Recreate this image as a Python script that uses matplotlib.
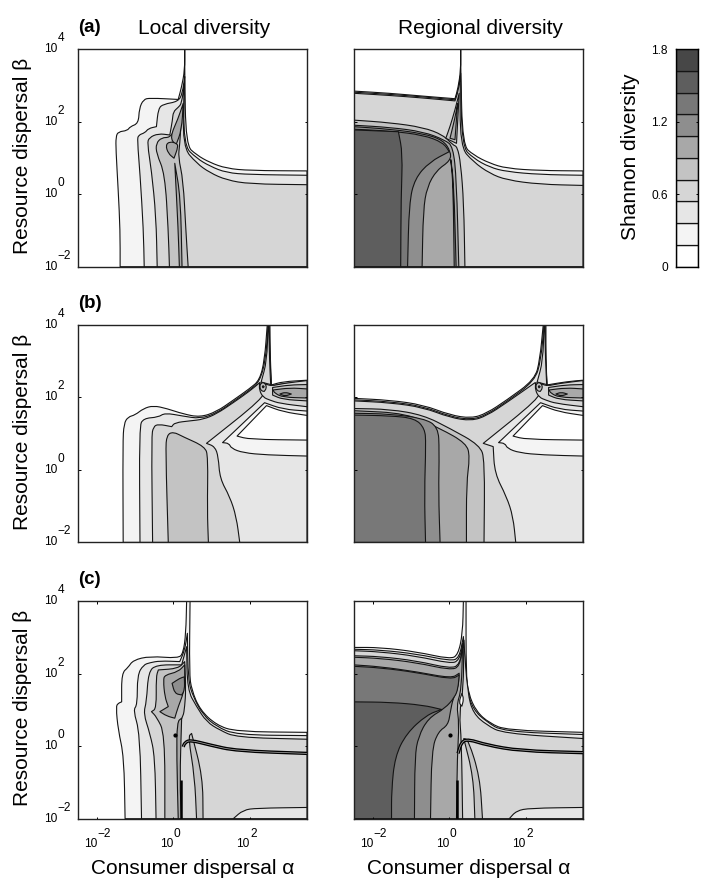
import numpy as np
import matplotlib
matplotlib.use("Agg")
import matplotlib.pyplot as plt
from matplotlib.path import Path
from matplotlib.patches import PathPatch

plt.rcParams['font.family'] = ['Liberation Sans', 'DejaVu Sans']

W, H = 706, 885
LEVEL_EDGES = [0, 0.18, 0.36, 0.54, 0.72, 0.90, 1.08, 1.26, 1.44, 1.62, 1.80]
GRAYS = ['#ffffff', '#f4f4f4', '#e6e6e6', '#d6d6d6', '#c3c3c3',
         '#a8a8a8', '#8e8e8e', '#787878', '#5e5e5e', '#474747']

# All outlines: (log10 consumer dispersal, log10 resource dispersal)
a_l1 = [(-1.39,-2),(-1.39,-0.99),(-1.44,0.11),(-1.50,1.22),(-1.50,1.58),(-1.44,1.72),(-1.20,1.75),(-1.13,1.86),(-0.91,1.95),(-0.89,2.36),(-0.78,2.61),(-0.61,2.65),(0.13,2.61),(0.22,2.96),(0.30,3.42),(0.30,4),(0.30,3.42),(0.33,1.35),(0.61,1.08),(0.96,0.87),(1.39,0.71),(2.00,0.65),(3.5,0.64),(3.5,-2)]
a_l2 = [(-0.76,-2),(-0.78,-0.99),(-0.87,0.57),(-0.94,1.49),(-0.91,1.63),(-0.74,1.69),(-0.65,1.81),(-0.44,1.86),(-0.39,2.36),(-0.26,2.48),(0.13,2.55),(0.24,2.78),(0.30,3.24),(0.26,1.35),(0.61,0.99),(0.96,0.77),(1.39,0.59),(2.00,0.54),(3.5,0.52),(3.5,-2)]
a_l3 = [(-0.42,-2),(-0.45,-0.62),(-0.57,0.66),(-0.68,1.40),(-0.63,1.56),(-0.39,1.67),(-0.09,1.63),(-0.02,2.04),(0.00,2.27),(0.13,2.39),(0.22,2.50),(0.29,3.05),(0.24,1.31),(0.61,0.85),(0.96,0.59),(1.39,0.39),(2.00,0.28),(3.5,0.26),(3.5,-2)]
a_l4 = [(-0.10,-2),(-0.13,-0.99),(-0.22,0.57),(-0.44,1.12),(-0.45,1.40),(-0.30,1.56),(-0.09,1.56),(0.04,1.77),(0.22,2.23),(0.17,1.35),(0.13,1.03),(0.26,0.39),(0.33,-0.99),(0.39,-2)]
a_l5_blob = [(-0.20,1.35),(-0.09,1.45),(0.09,1.40),(0.13,1.31),(0.02,0.99),(-0.13,1.12)]
a_l5_strip = [(0.16,-2),(0.13,-0.99),(0.04,0.85),(0.19,-0.07),(0.23,-2)]
a_l5_fan = [(-0.09,1.56),(0.13,2.09),(0.26,2.50),(0.22,1.77),(0.07,1.35)]

ar_l1 = [(-2.5,2.84),(-1.55,2.78),(-0.68,2.70),(0.15,2.63),(0.23,2.92),(0.30,3.42),(0.30,4),(0.30,3.42),(0.35,1.35),(0.63,1.08),(1.06,0.85),(1.50,0.71),(2.37,0.65),(3.5,0.64),(3.5,-2),(-2.5,-2)]
ar_l2 = [(-2.5,2.81),(-1.55,2.75),(-0.68,2.68),(0.15,2.60),(0.24,2.87),(0.30,3.33),(0.33,1.31),(0.63,0.99),(1.06,0.74),(1.50,0.62),(2.37,0.54),(3.5,0.52),(3.5,-2),(-2.5,-2)]
ar_l3 = [(-2.5,2.78),(-1.55,2.72),(-0.68,2.65),(0.15,2.57),(0.23,2.82),(0.29,3.24),(0.28,1.31),(0.63,0.89),(1.06,0.57),(1.50,0.39),(2.37,0.27),(3.5,0.24),(3.5,-2),(-2.5,-2)]
ar_l4 = [(-2.5,2.04),(-1.55,1.97),(-0.68,1.84),(-0.16,1.63),(0.10,1.35),(0.21,1.31),(0.30,0.85),(0.38,-0.25),(0.41,-2),(-2.5,-2)]
ar_l4_fan = [(-0.09,1.54),(0.02,1.86),(0.15,2.32),(0.26,2.78),(0.19,1.40)]
ar_l5 = [(-2.5,1.90),(-1.55,1.84),(-0.68,1.72),(-0.11,1.49),(0.10,1.31),(0.19,0.39),(0.25,-2),(-2.5,-2)]
ar_l5_fan = [(0.02,1.54),(0.15,2.10),(0.22,2.50),(0.15,1.50)]
ar_l6 = [(-2.5,1.86),(-1.55,1.79),(-0.68,1.67),(-0.16,1.49),(0.04,1.17),(0.03,0.92),(-0.33,0.66),(-0.58,0.20),(-0.68,-0.44),(-0.71,-2),(-2.5,-2)]
ar_l6_strip = [(0.13,-2),(0.10,0.30),(0.04,0.95),(0.12,0.30),(0.18,-2)]
ar_l7 = [(-2.5,1.79),(-1.55,1.74),(-0.68,1.63),(-0.16,1.42),(0.00,1.17),(-0.51,0.89),(-0.90,0.43),(-1.05,-0.25),(-1.09,-2),(-2.5,-2)]
ar_l8 = [(-2.5,1.77),(-1.33,1.72),(-1.22,1.12),(-1.26,-0.07),(-1.27,-2),(-2.5,-2)]

b_wedge = [(3.5,1.62),(2.87,1.67),(2.39,1.85),(1.29,0.75),(1.46,0.73),(1.52,0.59),(1.83,0.47),(2.44,0.41),(3.5,0.38)]
b_hole = [(2.44,1.77),(1.67,0.93),(2.00,0.84),(3.5,0.82),(3.5,1.50),(2.87,1.60)]
b_lens_l3 = [(2.44,2.36),(2.57,2.31),(2.87,2.38),(3.5,2.46),(3.5,1.74),(2.79,1.83),(2.53,1.92),(2.35,2.00),(2.25,2.20),(2.26,2.40)]
b_lens_l4 = [(2.60,2.27),(3.05,2.34),(3.5,2.35),(3.5,1.90),(2.87,1.94),(2.60,2.06)]
b_lens_l5 = [(2.61,2.20),(3.05,2.26),(3.5,2.23),(3.5,1.98),(2.87,2.00),(2.66,2.11)]
b_lens_l6 = [(2.79,2.09),(2.93,2.14),(3.09,2.09),(2.93,2.03)]
b_ring_l4 = [(2.26,2.29),(2.29,2.38),(2.35,2.41),(2.42,2.36),(2.44,2.25),(2.38,2.16),(2.30,2.18)]
b_ring_l7 = [(2.33,2.29),(2.35,2.32),(2.38,2.29),(2.35,2.26)]

bl_l1 = [(-1.31,-2),(-1.32,0.73),(-1.29,1.28),(-1.18,1.46),(-1.00,1.51),(-0.78,1.69),(-0.52,1.77),(-0.17,1.69),(0.26,1.54),(0.70,1.45),(1.13,1.60),(1.57,1.92),(2.00,2.24),(2.26,2.47),(2.39,3.03),(2.46,4),(2.53,4),(2.54,3.03),(2.57,2.34),(2.87,2.43),(3.5,2.47),(3.5,-2)]
bl_l2 = [(-0.87,-2),(-0.89,1.19),(-0.78,1.42),(-0.39,1.45),(-0.22,1.57),(0.26,1.48),(0.70,1.41),(1.13,1.56),(1.57,1.88),(2.00,2.20),(2.26,2.43),(2.42,3.03),(2.48,4),(2.51,4),(2.53,3.03),(2.57,2.31),(2.87,2.38),(3.5,2.43),(3.5,-2)]
bl_l3 = [(-0.54,-2),(-0.57,0.91),(-0.52,1.19),(-0.39,1.26),(-0.04,1.19),(0.04,1.30),(0.44,1.35),(0.78,1.39),(1.13,1.54),(1.57,1.85),(2.00,2.17),(2.26,2.40),(2.35,2.20),(2.35,1.97),(0.87,0.73),(1.09,0.64),(1.18,0.36),(1.22,-0.24),(1.48,-0.74),(1.65,-1.29),(1.74,-2)]
bl_l4 = [(-0.13,-2),(-0.20,0.54),(-0.17,0.96),(0.00,1.05),(0.26,0.91),(0.83,0.64),(0.91,0.36),(0.89,-1.11),(0.92,-2)]
bl_spike = [(2.30,2.42),(2.45,3.00),(2.48,4),(2.50,4),(2.52,3.00),(2.55,2.35)]

br_l1 = [(-2.5,1.97),(-1.55,1.92),(-0.68,1.79),(0.02,1.51),(0.58,1.42),(0.98,1.56),(1.50,1.92),(2.24,2.49),(2.37,3.03),(2.46,4),(2.53,4),(2.53,3.03),(2.56,2.34),(3.07,2.43),(3.5,2.47),(3.5,-2),(-2.5,-2)]
br_l2 = [(-2.5,1.93),(-1.55,1.88),(-0.68,1.75),(0.02,1.47),(0.58,1.38),(0.98,1.52),(1.50,1.88),(2.24,2.45),(2.40,3.03),(2.48,4),(2.51,4),(2.52,3.03),(2.56,2.31),(3.07,2.39),(3.5,2.43),(3.5,-2),(-2.5,-2)]
br_l3 = [(-2.5,1.90),(-1.55,1.85),(-0.68,1.72),(0.02,1.44),(0.58,1.35),(0.98,1.49),(1.50,1.85),(2.24,2.40),(2.35,2.20),(2.35,1.97),(0.89,0.73),(1.15,0.64),(1.19,-0.10),(1.50,-0.74),(1.67,-1.29),(1.74,-2),(-2.5,-2)]
br_l4 = [(-2.5,1.69),(-1.55,1.67),(-0.68,1.51),(0.02,1.14),(0.80,0.68),(0.93,0.27),(0.91,-2),(-2.5,-2)]
br_l5 = [(-2.5,1.63),(-1.12,1.56),(-0.24,1.14),(0.45,0.73),(0.54,0.36),(0.45,-0.37),(0.45,-2),(-2.5,-2)]
br_l6 = [(-2.5,1.56),(-1.55,1.54),(-0.68,1.42),(-0.29,1.19),(-0.26,0.54),(-0.28,-0.65),(-0.24,-2),(-2.5,-2)]
br_l7 = [(-2.5,1.51),(-1.55,1.49),(-0.90,1.42),(-0.64,1.14),(-0.61,0.73),(-0.65,-0.65),(-0.62,-2),(-2.5,-2)]

cl_l1 = [(-1.26,-2),(-1.29,-0.29),(-1.44,0.44),(-1.50,1.09),(-1.44,1.18),(-1.35,1.22),(-1.35,2.01),(-1.18,2.17),(-1.05,2.37),(-0.61,2.48),(0.13,2.42),(0.26,2.56),(0.33,3.11),(0.35,4),(0.44,4),(0.42,2.01),(0.48,1.55),(0.70,1.00),(1.13,0.58),(1.65,0.40),(3.5,0.38),(3.5,-2)]
cl_l2 = [(-0.83,-2),(-0.87,0.35),(-1.05,1.00),(-0.94,1.13),(-0.94,1.96),(-0.78,2.24),(-0.61,2.30),(-0.35,2.35),(0.17,2.33),(0.30,2.65),(0.37,3.11),(0.39,1.82),(0.52,1.36),(0.78,0.86),(1.13,0.54),(1.65,0.31),(3.5,0.29),(3.5,-2)]
cl_l3 = [(-0.45,-2),(-0.48,-0.29),(-0.61,0.35),(-0.78,0.90),(-0.70,1.22),(-0.65,2.05),(-0.44,2.24),(0.22,2.24),(0.35,2.74),(0.37,1.55),(0.61,1.09),(0.87,0.67),(1.22,0.44),(1.65,0.24),(3.5,0.19),(3.5,-2)]
cl_patch = [(1.57,-2),(1.83,-1.76),(2.18,-1.71),(3.5,-1.69),(3.5,-2)]
cl_l4 = [(-0.22,-2),(-0.22,0.35),(-0.44,0.81),(-0.57,0.95),(-0.44,1.04),(-0.45,1.91),(-0.39,2.10),(0.13,2.14),(0.30,2.33),(0.33,1.55),(0.30,1.09),(0.26,0.81),(0.13,0.63),(0.10,-0.29),(0.16,-2)]
cl_l5 = [(-0.26,1.82),(-0.22,1.96),(0.13,2.05),(0.30,2.24),(0.30,1.55),(0.13,1.09),(0.04,0.77),(-0.17,0.83),(-0.35,0.95),(-0.13,1.09),(-0.22,1.36)]
cl_l5_strip = [(0.13,-2),(0.09,-0.29),(0.10,0.67),(0.22,0.77),(0.17,-1.0),(0.22,-2)]
cl_l6 = [(-0.03,1.73),(0.17,1.87),(0.29,1.91),(0.30,1.55),(0.22,1.41),(0.04,1.45)]
cl_strip = [(0.61,-2),(0.56,-0.84),(0.39,0.26),(0.48,0.35),(0.77,-0.84),(0.78,-2)]
cl_thick = [(0.26,-0.02),(0.30,0.09),(0.44,0.17),(0.96,0.03),(1.65,-0.13),(3.5,-0.20)]
cl_bar = [(0.19,-0.94),(0.19,-2)]
cl_dot = (0.04,0.31)

cr_l1 = [(-2.5,2.72),(-1.81,2.72),(-0.85,2.60),(0.02,2.40),(0.23,2.51),(0.35,3.11),(0.37,4),(0.44,4),(0.44,2.01),(0.50,1.45),(0.71,0.95),(1.06,0.63),(1.50,0.44),(3.5,0.38),(3.5,-2),(-2.5,-2)]
cr_l2 = [(-2.5,2.67),(-1.81,2.65),(-0.85,2.54),(0.02,2.35),(0.26,2.42),(0.37,3.02),(0.46,1.55),(0.63,1.00),(0.98,0.67),(1.41,0.40),(3.5,0.32),(3.5,-2),(-2.5,-2)]
cr_l3 = [(-2.5,2.63),(-1.81,2.60),(-0.85,2.48),(0.02,2.28),(0.26,2.35),(0.38,2.92),(0.48,1.45),(0.63,0.90),(0.98,0.58),(1.41,0.35),(3.5,0.21),(3.5,-2),(-2.5,-2)]
cr_patch = [(1.57,-2),(1.76,-1.78),(2.11,-1.71),(3.5,-1.69),(3.5,-2)]
cr_l4 = [(-2.5,2.49),(-1.81,2.47),(-0.85,2.35),(0.02,2.14),(0.28,2.24),(0.38,2.92),(0.37,1.55),(0.26,0.90),(0.32,0.17),(0.35,-2),(-2.5,-2)]
cr_strip = [(0.67,-2),(0.63,-0.84),(0.38,0.21),(0.50,0.17),(0.80,-0.84),(0.87,-2)]
cr_l5 = [(-2.5,2.45),(-1.81,2.42),(-0.85,2.30),(0.02,2.10),(0.28,2.19),(0.35,2.83),(0.32,1.55),(0.19,1.13),(0.26,0.63),(0.21,-0.29),(0.19,-2),(-2.5,-2)]
cr_l6 = [(-2.5,2.24),(-1.81,2.19),(-0.85,2.05),(0.06,1.87),(0.26,2.01),(0.23,1.59),(0.10,1.32),(0.03,0.95),(-0.03,0.58),(-0.29,0.40),(-0.46,-0.11),(-0.49,-2),(-2.5,-2)]
cr_l7 = [(-2.5,2.20),(-1.81,2.16),(-0.85,2.03),(0.06,1.84),(0.26,1.96),(0.23,1.59),(0.15,1.36),(-0.11,1.04),(-0.55,0.77),(-0.81,0.26),(-0.90,-0.29),(-0.91,-2),(-2.5,-2)]
cr_l8 = [(-2.5,1.22),(-1.55,1.21),(-0.68,1.13),(-0.20,1.01),(-0.59,0.86),(-1.12,0.35),(-1.42,-0.29),(-1.51,-1.21),(-1.51,-2),(-2.5,-2)]
cr_white = [(0.25,1.20),(0.33,1.45),(0.38,1.30),(0.33,1.10)]
cr_thick = [(0.23,-0.20),(0.32,0.12),(0.50,0.19),(0.98,0.03),(1.85,-0.13),(3.5,-0.18)]
cr_bar = [(0.20,-0.94),(0.20,-2)]
cr_dot = (0.02,0.31)

x_ticks = [-2, 0, 2]
y_ticks = [-2, 0, 2, 4]
bar_ticks = [0, 0.6, 1.2, 1.8]
bar_tick_labels = ['0', '0.6', '1.2', '1.8']

PANELS = {
    'a_left': ([(1,a_l1),(2,a_l2),(3,a_l3),(4,a_l4),(5,a_l5_fan),(5,a_l5_blob),(5,a_l5_strip)], None),
    'a_right': ([(1,ar_l1),(2,ar_l2),(3,ar_l3),(4,ar_l4),(4,ar_l4_fan),(5,ar_l5),(5,ar_l5_fan),(6,ar_l6),(6,ar_l6_strip),(7,ar_l7),(8,ar_l8)], None),
    'b_left': ([(1,bl_l1),(2,bl_l2),(1,b_wedge),(0,b_hole),(3,bl_l3),(3,bl_spike),(4,bl_l4),(3,b_lens_l3),(4,b_lens_l4),(5,b_lens_l5),(6,b_lens_l6),(4,b_ring_l4),(7,b_ring_l7)], None),
    'b_right': ([(1,br_l1),(2,br_l2),(1,b_wedge),(0,b_hole),(3,br_l3),(3,bl_spike),(4,br_l4),(5,br_l5),(6,br_l6),(7,br_l7),(3,b_lens_l3),(4,b_lens_l4),(5,b_lens_l5),(6,b_lens_l6),(4,b_ring_l4),(7,b_ring_l7)], None),
    'c_left': ([(1,cl_l1),(2,cl_l2),(3,cl_l3),(2,cl_patch),(4,cl_strip),(4,cl_l4),(5,cl_l5),(5,cl_l5_strip),(6,cl_l6)], (cl_thick,cl_bar,cl_dot)),
    'c_right': ([(1,cr_l1),(2,cr_l2),(3,cr_l3),(2,cr_patch),(4,cr_strip),(4,cr_l4),(5,cr_l5),(6,cr_l6),(7,cr_l7),(8,cr_l8),(0,cr_white)], (cr_thick,cr_bar,cr_dot)),
}

LEFT = {'left': 77.7, 'right': 353.7}
TOPS = {'a': 49.0, 'b': 324.7, 'c': 601.0}
AW, AH = 229.3, 217.7
FS_TICK, FS_LABEL = 8.6, 15
SHARP_TURN_DEG = 65

fig = plt.figure(figsize=(W/100, H/100), dpi=100)


def box(x, y, w, h):
    return [x/W, 1-(y+h)/H, w/W, h/H]


def contour_path(points, closed=True):
    """Path through the outline, drawn as round contour curves except at sharp corners."""
    P = np.array(points, float)
    n = len(P)
    sharp = []
    for i in range(n):
        if not closed and i in (0, n-1):
            sharp.append(True)
            continue
        a, b = P[i]-P[(i-1) % n], P[(i+1) % n]-P[i]
        c = np.dot(a, b)/(np.linalg.norm(a)*np.linalg.norm(b)+1e-12)
        sharp.append(np.degrees(np.arccos(np.clip(c, -1, 1))) > SHARP_TURN_DEG)
    start = sharp.index(True) if any(sharp) else 0
    order = [(start+k) % n for k in range(n)] if closed else list(range(n))
    verts, codes = [], []
    if sharp[start]:
        verts.append(P[start]); codes.append(Path.MOVETO)
        order = order[1:]
    else:
        verts.append((P[start-1]+P[start])/2); codes.append(Path.MOVETO)
    for i in order:
        if sharp[i]:
            verts.append(P[i]); codes.append(Path.LINETO)
        else:
            prev, nxt = P[(i-1) % n], P[(i+1) % n]
            verts.append((prev+P[i])/2); codes.append(Path.LINETO)
            verts.append(P[i]); codes.append(Path.CURVE3)
            verts.append((P[i]+nxt)/2); codes.append(Path.CURVE3)
    if closed:
        verts.append(verts[0]); codes.append(Path.CLOSEPOLY)
    return Path(10**np.array(verts), codes)


def make_axes(row, col):
    ax = fig.add_axes(box(LEFT[col], TOPS[row], AW, AH))
    layers, extras = PANELS[f'{row}_{col}']
    ax.set_xscale('log')
    ax.set_yscale('log')
    for lev, poly in layers:
        ax.add_patch(PathPatch(contour_path(poly), facecolor=GRAYS[lev], edgecolor='#141414',
                               lw=0.8, joinstyle='round'))
    if extras:
        thick, bar, dot = extras
        ax.add_patch(PathPatch(contour_path(thick, closed=False), fill=False, edgecolor='k', lw=2.4))
        ax.add_patch(PathPatch(contour_path(thick, closed=False), fill=False, edgecolor='#b0b0b0', lw=0.5))
        ax.add_patch(PathPatch(contour_path(bar, closed=False), fill=False, edgecolor='k', lw=1.8))
        ax.plot(10**dot[0], 10**dot[1], 'o', color='k', ms=2)
    ax.set_xlim(10**-2.5, 10**3.5)
    ax.set_ylim(1e-2, 1e4)
    ax.xaxis.set_minor_locator(matplotlib.ticker.NullLocator())
    ax.yaxis.set_minor_locator(matplotlib.ticker.NullLocator())
    ax.set_yticks([10.0**e for e in y_ticks])
    ax.set_xticks([10.0**e for e in x_ticks] if row == 'c' else [])
    ax.tick_params(which='major', direction='in', length=1.8, width=0.7, top=True, right=True,
                   labelbottom=False, labelleft=False)
    for s in ax.spines.values():
        s.set_linewidth(1.0)
        s.set_color('#222222')
    ytr = ax.get_yaxis_transform()
    xtr = ax.get_xaxis_transform()
    if col == 'left':
        for e in y_ticks:
            ax.annotate('10', xy=(0, 10.0**e), xycoords=ytr, xytext=(-20.7, 0), textcoords='offset pixels',
                        ha='right', va='center', fontsize=FS_TICK, annotation_clip=False)
            ax.annotate(str(e).replace('-', '\u2212'), xy=(0, 10.0**e), xycoords=ytr, xytext=(-20.2, 11),
                        textcoords='offset pixels', ha='left', va='center', fontsize=FS_TICK, annotation_clip=False)
        fig.text(23/W, 1-(TOPS[row]+107)/H, 'Resource dispersal \u03b2', rotation=90,
                 ha='center', va='center', fontsize=FS_LABEL)
    if row == 'c':
        for e in x_ticks:
            ax.annotate('10', xy=(10.0**e, 0), xycoords=xtr, xytext=(0, -25), textcoords='offset pixels',
                        ha='right', va='center', fontsize=FS_TICK, annotation_clip=False)
            ax.annotate(str(e).replace('-', '\u2212'), xy=(10.0**e, 0), xycoords=xtr, xytext=(0.5, -15),
                        textcoords='offset pixels', ha='left', va='center', fontsize=FS_TICK, annotation_clip=False)
        fig.text((LEFT[col]+AW/2)/W, 1-868.5/H, 'Consumer dispersal \u03b1',
                 ha='center', va='center', fontsize=FS_LABEL)
    return ax


for row in 'abc':
    for col in ('left', 'right'):
        make_axes(row, col)
    fig.text(78/W, 1-(TOPS[row]-21)/H, f'({row})', fontweight='bold', fontsize=13.5,
             ha='left', va='center')

fig.text(204/W, 1-28/H, 'Local diversity', ha='center', va='center', fontsize=FS_LABEL)
fig.text(481/W, 1-28/H, 'Regional diversity', ha='center', va='center', fontsize=FS_LABEL)

cax = fig.add_axes(box(676, 49, 22.3, 217.7))
for i, g in enumerate(GRAYS):
    cax.barh(LEVEL_EDGES[i], 1, height=LEVEL_EDGES[i+1]-LEVEL_EDGES[i], align='edge',
             color=g, edgecolor='#141414', lw=0.9)
cax.set_xlim(0, 1)
cax.set_ylim(0, 1.8)
cax.set_xticks([])
cax.set_yticks(bar_ticks, bar_tick_labels, fontsize=FS_TICK)
cax.tick_params(direction='in', length=1.8, width=0.7, right=True, pad=6)
for s in cax.spines.values():
    s.set_linewidth(1.0)
fig.text(631/W, 1-157/H, 'Shannon diversity', rotation=90, ha='center', va='center', fontsize=FS_LABEL)

fig.savefig('out.png', dpi=100)
